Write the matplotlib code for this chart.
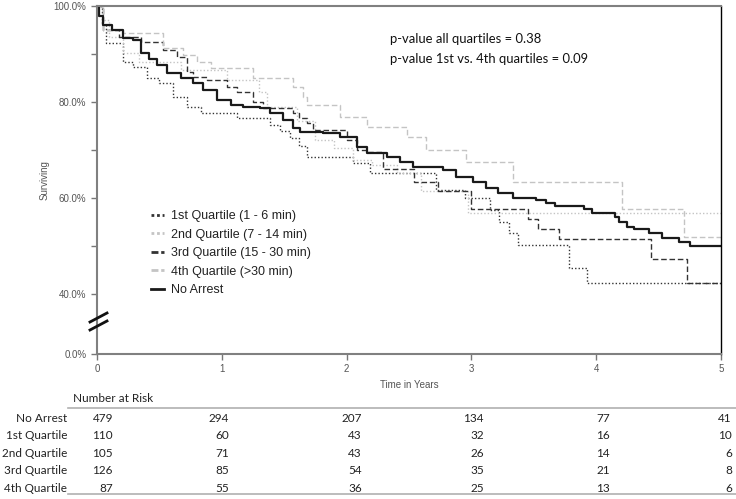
import matplotlib
matplotlib.use("Agg")
import matplotlib.pyplot as plt
from matplotlib.lines import Line2D

# survival curves (time in years, % surviving)
no_arrest_t = [0, 0.02, 0.05, 0.12, 0.21, 0.29, 0.35, 0.42, 0.48, 0.56, 0.67, 0.77, 0.85, 0.96,
               1.07, 1.17, 1.31, 1.39, 1.49, 1.57, 1.63, 1.81, 1.95, 2.08, 2.16, 2.32, 2.43, 2.53,
               2.77, 2.88, 3.01, 3.12, 3.21, 3.33, 3.52, 3.60, 3.67, 3.90, 3.97, 4.15, 4.18, 4.25,
               4.30, 4.42, 4.53, 4.66, 4.75, 5.0]
no_arrest_s = [100, 98, 96, 95, 93.3, 93, 90.2, 89, 87.7, 86, 85, 84, 82.5, 80.4,
               79.4, 79, 78.7, 77.7, 76.2, 74.6, 73.8, 73.5, 72.7, 70.6, 69.4, 68.6, 67.5, 66.5,
               65.8, 64.4, 63.3, 62, 61, 60, 59.6, 59, 58.3, 57.7, 56.9, 56, 55, 54,
               53.5, 52.7, 51.7, 50.8, 50, 50]

q1_t = [0, 0.04, 0.07, 0.21, 0.29, 0.40, 0.50, 0.61, 0.72, 0.83, 1.12, 1.39, 1.47, 1.55, 1.62,
        1.68, 2.05, 2.19, 2.72, 2.95, 3.15, 3.22, 3.30, 3.37, 3.78, 3.93, 5.0]
q1_s = [100, 96, 92.3, 88.3, 87.3, 85, 84, 81, 79, 77.7, 76.6, 75.2, 74, 72.5, 70.8,
        68.6, 67.3, 65.2, 61.7, 60, 57.5, 55, 52.7, 50.2, 45.4, 42.3, 42.3]

q2_t = [0, 0.05, 0.10, 0.21, 0.34, 0.67, 1.04, 1.30, 1.36, 1.60, 1.75, 1.90, 2.05, 2.20, 2.40,
        2.60, 2.97, 5.0]
q2_s = [100, 97, 93.5, 90.3, 88.3, 86.7, 84.6, 82, 79, 76, 72, 70.4, 67.9, 66.9, 65.2,
        61.5, 56.9, 56.9]

q3_t = [0, 0.05, 0.18, 0.35, 0.53, 0.64, 0.72, 0.77, 0.88, 1.04, 1.12, 1.25, 1.33, 1.57, 1.62,
        1.68, 1.73, 2.00, 2.08, 2.16, 2.29, 2.54, 2.73, 3.00, 3.45, 3.53, 3.70, 4.44, 4.73, 5.0]
q3_s = [100, 95, 93.5, 92.5, 90.8, 89.4, 86.3, 85.2, 84.6, 83.1, 82.1, 80, 78.7, 77.7, 76.7,
        75.6, 74.2, 72, 70, 69.6, 66, 63.3, 61.5, 57.7, 55.6, 53.5, 51.5, 47.3, 42.3, 42.3]

q4_t = [0, 0.05, 0.21, 0.53, 0.69, 0.80, 0.91, 1.25, 1.57, 1.65, 1.68, 1.95, 2.16, 2.48, 2.64,
        2.96, 3.33, 4.21, 4.70, 5.0]
q4_s = [100, 95, 94.4, 91.2, 89.8, 88.3, 87, 85, 83.1, 81, 79.4, 76.9, 74.8, 72.7, 70,
        67.5, 63.3, 57.7, 51.9, 51.9]

series_names = ["1st Quartile (1 - 6 min)", "2nd Quartile (7 - 14 min)",
                "3rd Quartile (15 - 30 min)", "4th Quartile (>30 min)", "No Arrest"]

# number at risk table
risk_rows = ["No Arrest", "1st Quartile", "2nd Quartile", "3rd Quartile", "4th Quartile"]
risk_vals = [[479, 294, 207, 134, 77, 41],
             [110, 60, 43, 32, 16, 10],
             [105, 71, 43, 26, 14, 6],
             [126, 85, 54, 35, 21, 8],
             [87, 55, 36, 25, 13, 6]]

W, H = 736, 499
fig = plt.figure(figsize=(W / 100, H / 100), dpi=100)
ax = fig.add_axes([97 / W, 1 - 354 / H, 624 / W, 348 / H])

dark = "#333333"
light = "#c4c4c4"
ax.step(q1_t, q1_s, where="post", color=dark, lw=1, ls=(0, (1, 1.5)))
ax.step(q2_t, q2_s, where="post", color=light, lw=1, ls=(0, (1, 1.5)))
ax.step(q3_t, q3_s, where="post", color=dark, lw=1, ls=(0, (4, 2)))
ax.step(q4_t, q4_s, where="post", color=light, lw=1, ls=(0, (4, 2)))
ax.step(no_arrest_t, no_arrest_s, where="post", color="#1a1a1a", lw=1.6)

# broken y axis: 0% drawn at 27.5
ax.set_xlim(0, 5)
ax.set_ylim(27.5, 100)
ax.set_yticks([27.5, 40, 60, 80, 100])
ax.set_yticklabels(["0.0%", "40.0%", "60.0%", "80.0%", "100.0%"])
ax.set_yticks([50, 70, 90], minor=True)
ax.set_xticks([0, 1, 2, 3, 4, 5])
ax.tick_params(axis="both", which="both", direction="out", length=4, width=1,
               colors="#777777", labelcolor="#555555", labelsize=7)
for s in ["left", "bottom", "top"]:
    ax.spines[s].set_color("#808080")
    ax.spines[s].set_linewidth(1.5)
ax.spines["right"].set_color("black")
ax.spines["right"].set_linewidth(1)
for lab in ax.get_xticklabels() + ax.get_yticklabels():
    lab.set_fontfamily("Liberation Sans")

ax.set_ylabel("Surviving", fontsize=7, color="#555555", family="Liberation Sans", labelpad=3)
ax.set_xlabel("Time in Years", fontsize=7, color="#555555", family="Liberation Sans", labelpad=4)

# axis break marks
for y0 in [322, 330]:
    fig.add_artist(Line2D([90 / W, 107 / W], [1 - y0 / H, 1 - (y0 - 9) / H], color="#111111", lw=2))

ax.text(0.47, 0.906, "p-value all quartiles = 0.38", transform=ax.transAxes,
        fontsize=9.4, family="Lato", color="#111111", va="center")
ax.text(0.47, 0.849, "p-value 1st vs. 4th quartiles = 0.09", transform=ax.transAxes,
        fontsize=9.4, family="Lato", color="#111111", va="center")

handles = [Line2D([], [], color=dark, lw=2, ls=(0, (1, 1))),
           Line2D([], [], color=light, lw=2, ls=(0, (1, 1))),
           Line2D([], [], color=dark, lw=2, ls=(0, (2.5, 1))),
           Line2D([], [], color=light, lw=2, ls=(0, (2.5, 1))),
           Line2D([], [], color="#1a1a1a", lw=2)]
fig.legend(handles, series_names, loc="upper left", bbox_to_anchor=(140 / W, 1 - 199 / H),
           frameon=False, handlelength=1.0, handletextpad=0.6, labelspacing=0.52,
           prop={"family": "Liberation Sans", "size": 9}, labelcolor="#222222")

# number at risk table
fig.text(73 / W, 1 - 398 / H, "Number at Risk", fontsize=8.5, family="Lato", va="center", color="#222222")
fig.add_artist(Line2D([68 / W, 1], [1 - 408 / H, 1 - 408 / H], color="#b0b0b0", lw=1.2))
fig.add_artist(Line2D([68 / W, 1], [1 - 494 / H, 1 - 494 / H], color="#b0b0b0", lw=1.2))
col_right = [113, 229, 362, 484, 610, 732]
for i, name in enumerate(risk_rows):
    y = 1 - (418 + i * 17.6) / H
    fig.text(67 / W, y, name, fontsize=8.5, family="Lato", ha="right", va="center", color="#222222")
    for j, v in enumerate(risk_vals[i]):
        fig.text(col_right[j] / W, y, str(v), fontsize=8.5, family="Lato", ha="right",
                 va="center", color="#222222")

fig.savefig("out.png", dpi=100)
